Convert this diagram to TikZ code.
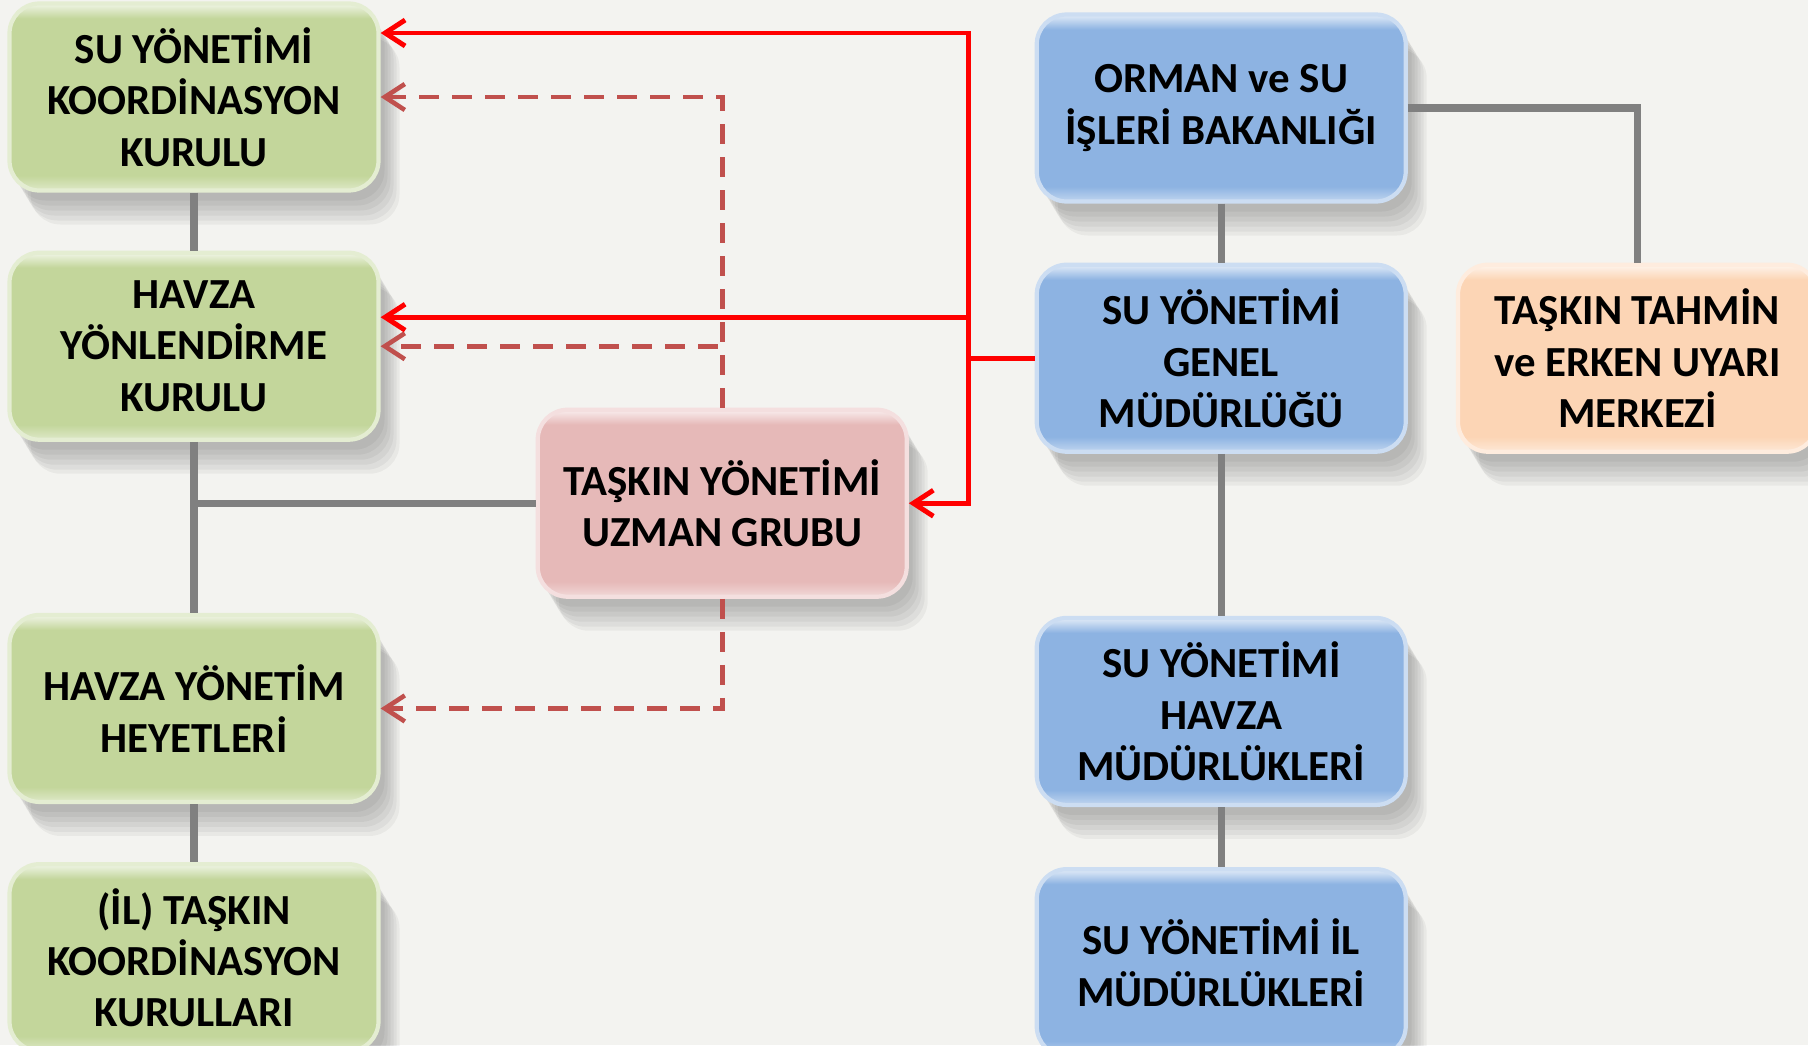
\documentclass[tikz,border=0pt]{standalone}
\usepackage{fontspec}
\setmainfont{Carlito}
\usetikzlibrary{positioning, arrows.meta, shadows}

\definecolor{bgcol}{RGB}{243,243,240}
\definecolor{boxgreen}{RGB}{195,214,155}
\definecolor{boxblue}{RGB}{141,179,226}
\definecolor{boxpink}{RGB}{230,185,184}
\definecolor{boxorange}{RGB}{252,213,181}
\definecolor{dashred}{RGB}{192,80,77}
\definecolor{linegray}{RGB}{128,128,128}

\newcommand\boxshade[1]{\pgfdeclareverticalshading{#1shade}{100bp}{color(0bp)=(#1!55!white); color(25bp)=(#1!55!white); color(29bp)=(#1); color(71bp)=(#1); color(75bp)=(#1!25!white); color(100bp)=(#1!25!white)}}
\boxshade{boxgreen}
\boxshade{boxblue}
\boxshade{boxpink}
\boxshade{boxorange}

\tikzset{
  shadowstep/.style 2 args={general shadow={fill=black, opacity=.045, shadow xshift=#1, shadow yshift=#2}},
  softshadow/.style={shadowstep={2.1mm}{-3.4mm}, shadowstep={1.8mm}{-3mm}, shadowstep={1.5mm}{-2.5mm},
    shadowstep={1.2mm}{-2mm}, shadowstep={.9mm}{-1.5mm}, shadowstep={.6mm}{-1mm}},
  box/.style={rounded corners=3mm, minimum width=36.9mm, minimum height=18.7mm, align=center,
    font=\bfseries\fontsize{12.2}{14.6}\selectfont, line width=1.2pt, fill=#1, draw=#1!45!white,
    path picture={\shade[shading=#1shade] (path picture bounding box.south west) rectangle (path picture bounding box.north east);},
    softshadow},
  greenbox/.style={box=boxgreen},
  bluebox/.style={box=boxblue},
  pinkbox/.style={box=boxpink},
  orangebox/.style={box=boxorange},
  grayline/.style={linegray, line width=2pt},
  redline/.style={red, line width=1.4pt, -{Straight Barb[length=2mm, width=2.6mm]}},
  dashline/.style={dashred, line width=1.3pt, dash pattern=on 2mm off 1.3mm, -{Straight Barb[length=2mm, width=2.6mm]}}
}

\begin{document}
\begin{tikzpicture}
	\useasboundingbox[fill=bgcol] (0,0) rectangle (180.8mm,-104.5mm);
	\node[greenbox] (sykk) at (19.4mm,-9.7mm) {SU YÖNETİMİ\\KOORDİNASYON\\KURULU};
	\node[greenbox, below=5.8mm of sykk] (hyk) {HAVZA\\YÖNLENDİRME\\KURULU};
	\node[greenbox, below=17.1mm of hyk] (hyh) {HAVZA YÖNETİM\\HEYETLERİ};
	\node[greenbox, below=5.8mm of hyh] (il) {(İL) TAŞKIN\\KOORDİNASYON\\KURULLARI};
	\node[pinkbox, right=15.5mm of hyk, yshift=-15.7mm] (tyug) {TAŞKIN YÖNETİMİ\\UZMAN GRUBU};
	\node[bluebox, right=65.4mm of sykk, yshift=-1.1mm] (orman) {ORMAN ve SU\\İŞLERİ BAKANLIĞI};
	\node[bluebox, below=5.9mm of orman] (sygm) {SU YÖNETİMİ\\GENEL\\MÜDÜRLÜĞÜ};
	\node[bluebox, below=16.2mm of sygm] (syhm) {SU YÖNETİMİ\\HAVZA\\MÜDÜRLÜKLERİ};
	\node[bluebox, below=6mm of syhm] (syil) {SU YÖNETİMİ İL\\MÜDÜRLÜKLERİ};
	\node[orangebox, minimum width=35.9mm, right=4.8mm of sygm] (ttem) {TAŞKIN TAHMİN\\ve ERKEN UYARI\\MERKEZİ};
	\draw[grayline] (sykk)--(hyk);
	\draw[grayline] (hyk.south)--(hyk.south |- hyh.north);
	\draw[grayline] (tyug.west)--(tyug.west -| hyk.south);
	\draw[grayline] (hyh)--(il);
	\draw[grayline] (orman)--(sygm);
	\draw[grayline] (sygm)--(syhm);
	\draw[grayline] (syhm)--(syhm.south |- syil.north);
	\draw[grayline] (orman.east) -| (ttem.north);
	\draw[dashline] (tyug.north) |- (sykk.east);
	\draw[dashline] (tyug.north) |- (hyk.east);
	\draw[dashline] (tyug.south) |- (hyh.east);
	\draw[redline] (sygm.west)--++(180:6.6mm) coordinate (aux) |- ([yshift=6.4mm]sykk.east);
	\draw[redline] (aux) |- ([yshift=2.9mm]hyk.east);
	\draw[redline] (aux) |- (tyug.east);
\end{tikzpicture}
\end{document}
